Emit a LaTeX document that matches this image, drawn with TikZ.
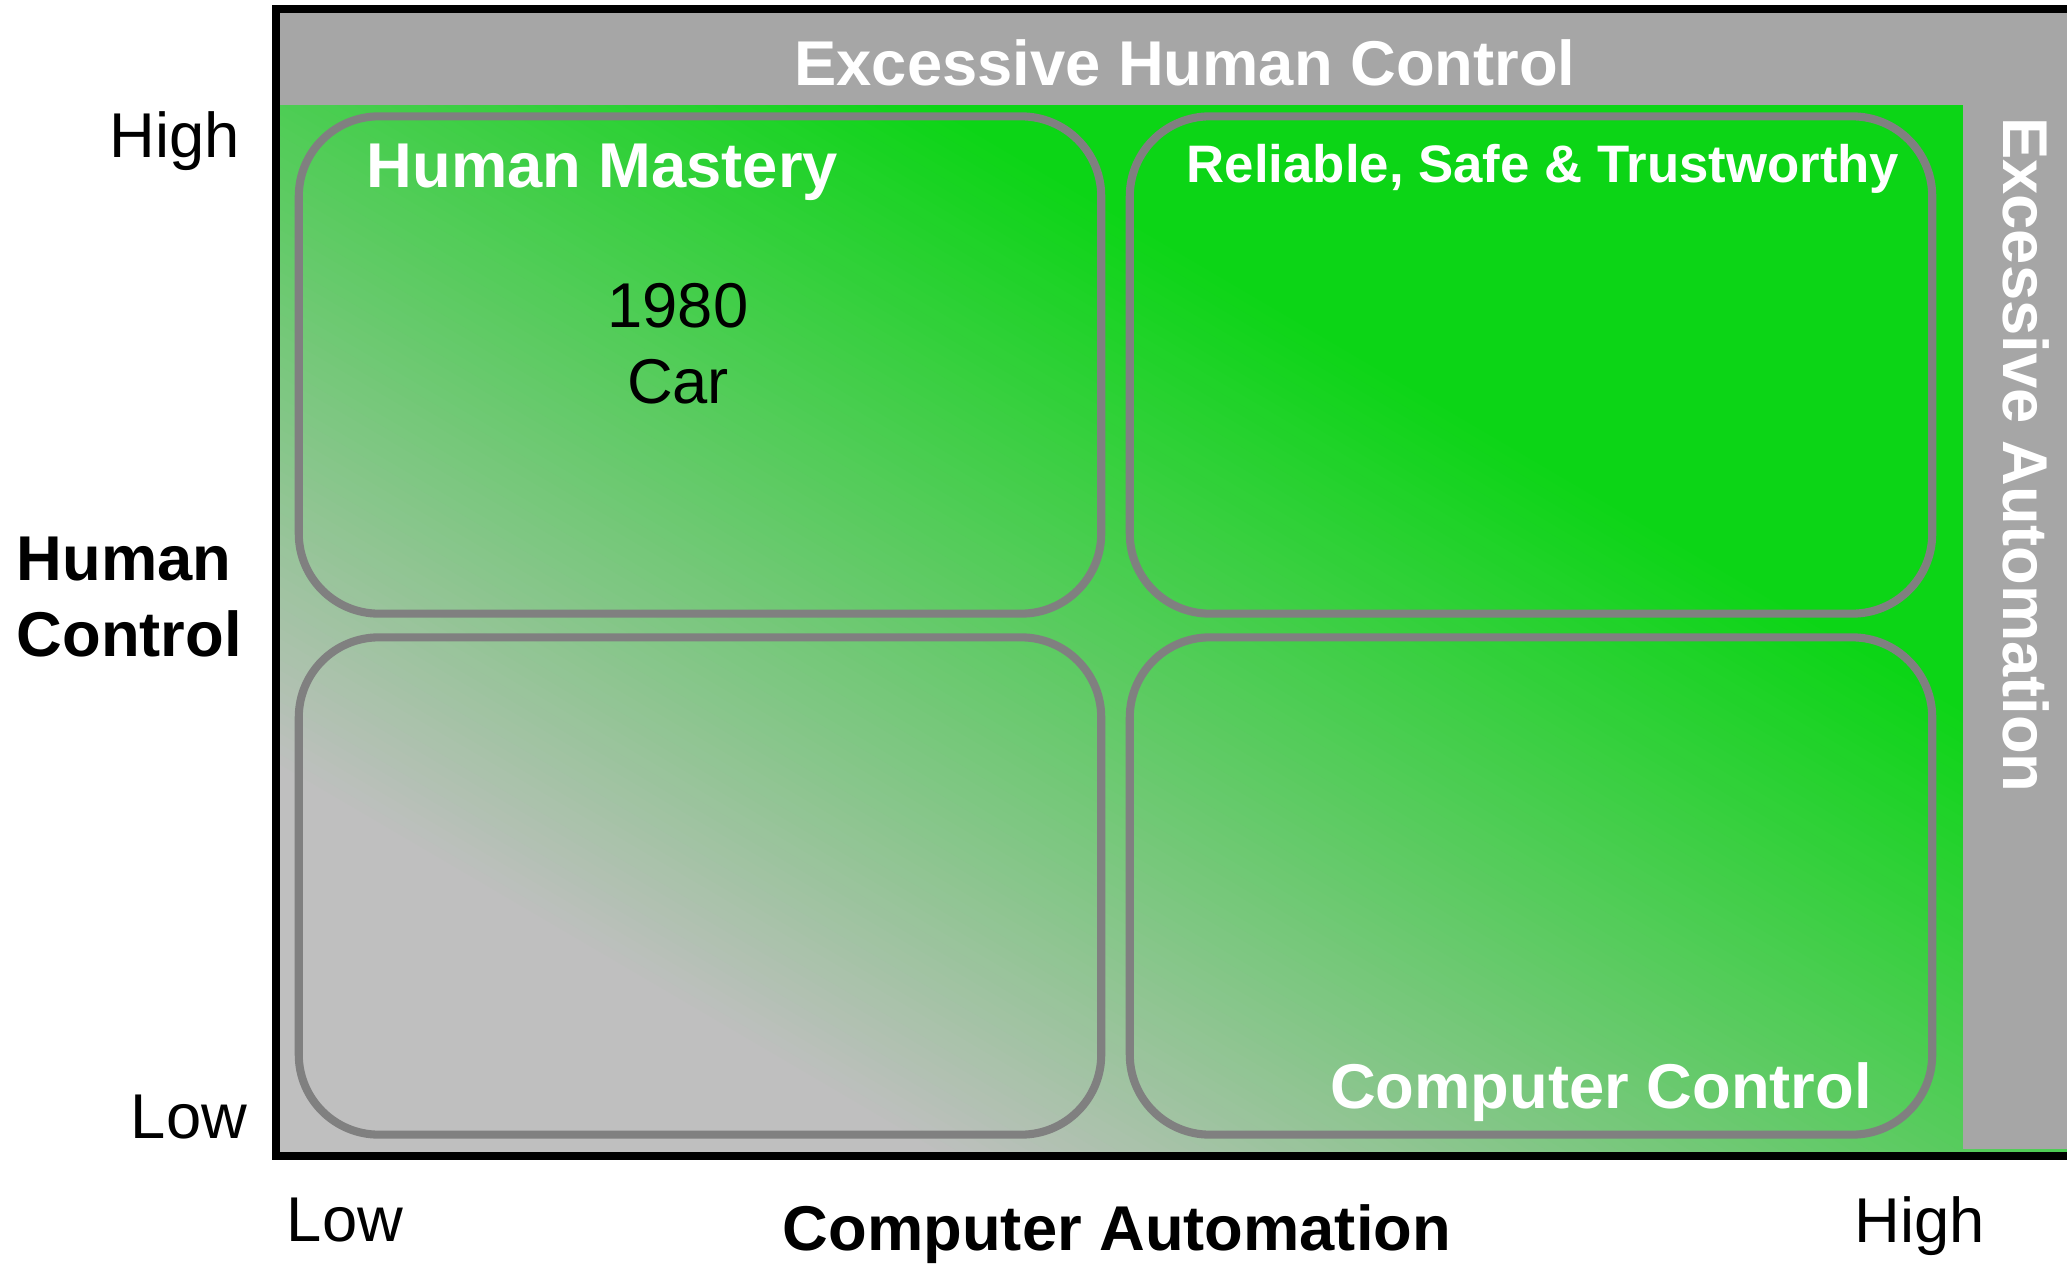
\documentclass[tikz,border=0pt]{standalone}
\usepackage{fontspec}
\setmainfont{Liberation Sans}
\usepackage{tikz}
\usetikzlibrary{calc,positioning}

\definecolor{bandgray}{RGB}{166,166,166}
\definecolor{lowgray}{RGB}{191,191,191}
\definecolor{topgreen}{RGB}{12,213,22}
\definecolor{boxgray}{RGB}{128,128,128}

\tikzset{
	quad/.style={draw=boxgray, line width=2.3pt, rounded corners=0.8cm, minimum width=8.02cm, minimum height=4.97cm, inner sep=0pt},
	whitelabel/.style={text=white, font=\fontsize{18}{21.6}\selectfont\bfseries, inner sep=0pt},
	axislabel/.style={font=\fontsize{18}{21.6}\selectfont, inner sep=0pt},
	axistitle/.style={font=\fontsize{18}{21.6}\selectfont\bfseries, inner sep=0pt},
}

\begin{document}
\begin{tikzpicture}[x=0.01cm, y=-0.01cm]
	
	\useasboundingbox (0,0) rectangle (2067,1264);
	\clip (0,0) rectangle (2067,1264);
	
	\coordinate (nw) at (276,9);
	\coordinate (se) at (2110,1156);
	
	% background, gray at lower left to green at upper right
	\begin{scope}[shift={(280,1152)}, x={(17.87cm,0cm)}, y={(0cm,10.47cm)}]
		\clip (0,0) rectangle (1,1);
		\fill[lowgray] (0,0) rectangle (1,1);
		\foreach \k in {0,...,100} {
			\pgfmathsetmacro\isoC{2*(0.18+0.005*\k)}
			\pgfmathsetmacro\mixpct{\k}
			\fill[topgreen!\mixpct!lowgray] (\isoC+1,-1) -- (-1,\isoC+1) -- (-1,3) -- (3,3) -- (3,-1) -- cycle;
		}
	\end{scope}
	\fill[bandgray] (280,13) rectangle (2067,105);
	\fill[bandgray] (1963,105) rectangle (2067,1149);
	\draw[line width=2.3pt] (nw) rectangle (se);
	
	% quadrants
	\node[quad] (mastery) at (700,365) {};
	\node[quad] (reliable) at (1531,365) {};
	\node[quad] (lowlow) at (700,886) {};
	\node[quad] (computer) at (1531,886) {};
	
	\node[whitelabel, anchor=base] (humanctl) at (1185,86) {Excessive Human Control};
	\node[whitelabel, anchor=base, rotate=-90] (autoctl) at (2003,455) {Excessive Automation};
	\node[whitelabel, anchor=base west] (masterytext) at (366,188) {Human Mastery};
	\node[whitelabel, anchor=base, font=\fontsize{15}{18}\selectfont\bfseries] (reliabletext) at (1543,183) {Reliable, Safe \& Trustworthy};
	\node[whitelabel, anchor=base] (computertext) at (1601,1108) {Computer Control};
	\node[axislabel, align=center] (car) at (678,344) {1980\\Car};
	
	% axes
	\node[axislabel, anchor=base] (yhigh) at (175,158) {High};
	\node[axislabel, anchor=base] (ylow) at (189,1138) {Low};
	\node[axistitle, align=left, anchor=west] (ytitle) at (16,597) {Human\\Control};
	\node[axislabel, anchor=base] (xlow) at (345,1241) {Low};
	\node[axislabel, anchor=base] (xhigh) at (1920,1242) {High};
	\node[axistitle, anchor=base] (xtitle) at (1117,1250) {Computer Automation};
	
\end{tikzpicture}
\end{document}
